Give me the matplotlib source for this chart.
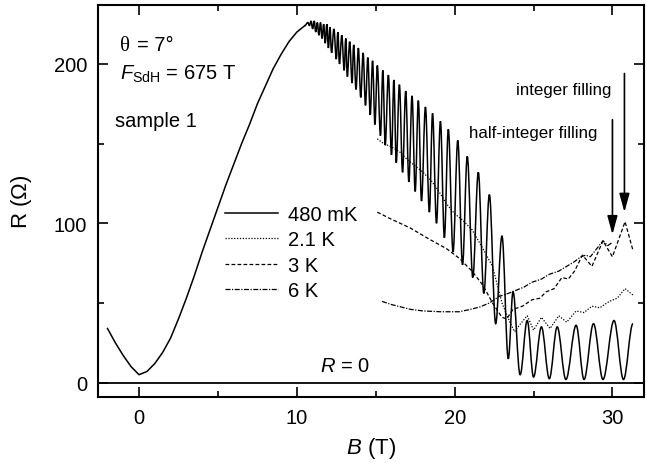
import matplotlib
matplotlib.use('Agg')
import matplotlib.pyplot as plt
from matplotlib.path import Path
from matplotlib.patches import PathPatch
from matplotlib.ticker import MultipleLocator

plt.rcParams['font.family'] = ['Liberation Sans', 'DejaVu Sans']
plt.rcParams['mathtext.fontset'] = 'custom'
plt.rcParams['mathtext.rm'] = 'Liberation Sans'
plt.rcParams['mathtext.it'] = 'Liberation Sans:italic'
plt.rcParams['mathtext.bf'] = 'Liberation Sans:bold'

# 480 mK, smooth low-field part
b_low = [-2.0, -1.5, -1.0, -0.5, 0.0, 0.5, 1.0, 1.5, 2.0, 2.5, 3.0, 3.5, 4.0,
         4.5, 5.0, 5.5, 6.0, 6.5, 7.0, 7.5, 8.0, 8.5, 9.0, 9.5, 10.0, 10.5]
r_low = [34, 25, 17, 10, 5, 7, 12, 19, 28, 40, 53, 67, 82,
         96, 110, 124, 137, 150, 162, 175, 186, 197, 206, 214, 220, 224]

# 480 mK, SdH oscillation maxima and minima
peak_b = [10.7, 10.9, 11.1, 11.3, 11.5, 11.7, 11.9, 12.1, 12.35, 12.6, 12.85, 13.1,
          13.35, 13.6, 13.9, 14.2, 14.5, 14.8, 15.1, 15.45, 15.8, 16.15, 16.5, 16.9,
          17.3, 17.7, 18.15, 18.6, 19.1, 19.6, 20.2, 20.8, 21.5, 22.2, 23.0, 23.7,
          24.6, 25.5, 26.5, 27.7, 28.8, 30.1]
peak_r = [226, 227, 227, 226, 226, 225, 225, 223, 222, 220, 218, 216,
          214, 212, 210, 207, 204, 202, 199, 196, 193, 190, 187, 183,
          180, 177, 173, 169, 164, 159, 152, 142, 132, 118, 92, 57,
          39, 35, 35, 36, 37, 39]
trough_b = [10.8, 11.0, 11.2, 11.4, 11.6, 11.8, 12.0, 12.2, 12.5, 12.7, 13.0, 13.2,
            13.5, 13.75, 14.05, 14.35, 14.65, 14.95, 15.3, 15.6, 16.0, 16.3, 16.7, 17.1,
            17.5, 17.9, 18.4, 18.85, 19.35, 19.9, 20.5, 21.15, 21.85, 22.6, 23.4, 24.15,
            25.0, 26.0, 27.05, 28.2, 29.4, 30.7]
trough_r = [224, 222, 220, 218, 216, 213, 210, 207, 203, 200, 196, 192,
            188, 184, 179, 174, 168, 162, 155, 149, 143, 138, 132, 126,
            120, 114, 107, 100, 91, 82, 74, 66, 56, 37, 15, 5,
            3.5, 2.5, 2, 2, 2, 2]
end_b, end_r = 31.3, 37

# 2.1 K
b_21 = [15.1, 15.5, 16.0, 16.5, 17.0, 17.5, 18.0, 18.5, 19.0, 19.5, 20.0, 20.5,
        21.1, 21.8, 22.4, 23.0, 23.5, 23.8, 24.1, 24.6, 25.0, 25.5, 26.05, 26.6,
        27.1, 27.7, 28.2, 28.7, 29.2, 29.8, 30.3, 30.8, 31.3]
r_21 = [153, 150, 148, 145, 140, 136, 132, 127, 120, 112, 106, 102,
        96, 84, 73, 50, 38, 32, 36, 42, 33, 41, 34, 42,
        38, 45, 44, 48, 47, 51, 53, 59, 55]

# 3 K
b_3 = [15.1, 15.9, 17.2, 18.4, 19.5, 20.3, 21.1, 21.8, 22.4, 23.0, 23.3, 23.7,
       24.3, 24.9, 25.4, 25.8, 26.3, 26.8, 27.2, 27.6, 28.1, 28.7, 29.4, 30.0,
       30.8, 31.3]
r_3 = [107, 103, 97, 90, 84, 78, 70, 61, 50, 41, 40, 46,
       48, 52, 53, 57, 59, 66, 65, 70, 80, 73, 89, 79,
       101, 83]

# 6 K
b_6 = [15.4, 16.0, 17.2, 18.0, 19.1, 20.3, 21.0, 21.6, 22.2, 22.8, 23.4, 23.9,
       24.4, 24.9, 25.5, 26.0, 26.6, 27.1, 27.6, 28.0, 28.3, 28.6, 29.0, 29.4,
       29.7, 30.0]
r_6 = [51, 49, 46, 45, 44.5, 44.5, 46, 47.5, 50, 54, 56, 58,
       60, 63, 65, 68, 70, 73, 76, 79, 80, 79, 84, 89,
       86, 88]

fig, ax = plt.subplots(figsize=(6.46, 4.64), dpi=100)
fig.subplots_adjust(left=98 / 646, right=644 / 646, top=1 - 6 / 464, bottom=1 - 398 / 464)

ax.axhline(0, color='k', lw=1.3)

# 480 mK: smooth part + oscillations drawn as smooth bezier through extrema
ax.plot(b_low, r_low, color='k', lw=1.1, label='480 mK')
pts = sorted(zip(peak_b + trough_b, peak_r + trough_r))
pts = [(b_low[-1], r_low[-1])] + pts + [(end_b, end_r)]
verts = [pts[0]]
codes = [Path.MOVETO]
for (x0, y0), (x1, y1) in zip(pts[:-1], pts[1:]):
    d = 0.36 * (x1 - x0)
    verts += [(x0 + d, y0), (x1 - d, y1), (x1, y1)]
    codes += [Path.CURVE4] * 3
ax.add_patch(PathPatch(Path(verts, codes), fill=False, lw=1.1, ec='k'))

ax.plot(b_21, r_21, color='k', lw=0.9, ls=(0, (1, 1.3)), label='2.1 K')
ax.plot(b_3, r_3, color='k', lw=0.9, ls=(0, (3, 1.8)), label='3 K')
ax.plot(b_6, r_6, color='k', lw=0.9, ls=(0, (4, 1.2, 1, 1.2)), label='6 K')

ax.set_xlim(-2.6, 32)
ax.set_ylim(-9, 237)
ax.xaxis.set_major_locator(MultipleLocator(10))
ax.xaxis.set_minor_locator(MultipleLocator(5))
ax.yaxis.set_major_locator(MultipleLocator(100))
ax.yaxis.set_minor_locator(MultipleLocator(50))
ax.tick_params(which='both', direction='in', top=True, right=True, width=1.2, labelsize=14.5)
ax.tick_params(which='major', length=7, pad=8)
ax.tick_params(which='minor', length=4.5)
for s in ax.spines.values():
    s.set_linewidth(1.5)

ax.set_xlabel(r'$B$ (T)', fontsize=16, labelpad=6)
ax.set_ylabel(r'R ($\Omega$)', fontsize=16, labelpad=14)

ax.text(-1.2, 209, 'θ', fontsize=15, family='Liberation Serif')
ax.text(-0.1, 209, '= 7°', fontsize=14.5)
ax.text(-1.2, 191, r'$F_{\mathrm{SdH}}$ = 675 T', fontsize=14.5)
ax.text(-1.5, 161, 'sample 1', fontsize=14.5)
ax.text(11.45, 7.5, r'$R$ = 0', fontsize=14.5)

ax.text(29.94, 181, 'integer filling', fontsize=12.2, ha='right')
ax.text(29.05, 154, 'half-integer filling', fontsize=12.2, ha='right')
arrow = dict(arrowstyle='-|>,head_width=0.22,head_length=0.8', color='k', lw=1.2,
             shrinkA=0, shrinkB=0, mutation_scale=14)
ax.annotate('', xy=(30.76, 107), xytext=(30.76, 194), arrowprops=arrow)
ax.annotate('', xy=(30.0, 93), xytext=(30.0, 165), arrowprops=arrow)

ax.legend(loc='upper left', bbox_to_anchor=(0.233, 0.49), frameon=False, fontsize=14.5,
          handlelength=2.6, handletextpad=0.5, labelspacing=0.32, borderpad=0,
          borderaxespad=0)

fig.savefig('out.png', dpi=100)
